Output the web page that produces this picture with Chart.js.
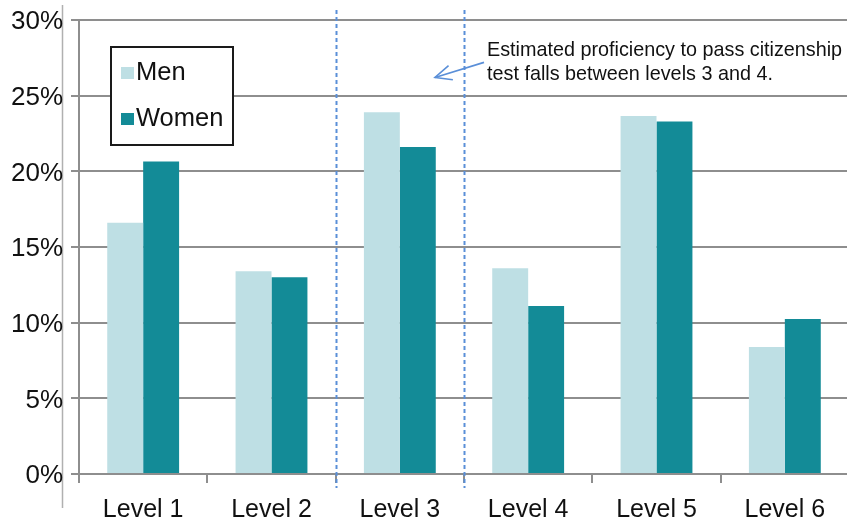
<!DOCTYPE html>
<html>
<head>
<meta charset="utf-8">
<script src="https://cdn.jsdelivr.net/npm/chart.js@4.4.1/dist/chart.umd.min.js"></script>
<style>
  html, body { margin: 0; padding: 0; background: #ffffff; overflow: hidden; }
  canvas { display: block; }
</style>
</head>
<body>
<canvas id="chart" width="849" height="521"></canvas>
<script>
// Share of test takers at each proficiency level, in percent
const categories = ['Level 1', 'Level 2', 'Level 3', 'Level 4', 'Level 5', 'Level 6'];
const menValues = [16.6, 13.4, 23.9, 13.6, 23.65, 8.4];
const womenValues = [20.65, 13.0, 21.6, 11.1, 23.3, 10.25];
const seriesNames = ['Men', 'Women'];
const yTickValues = [0, 5, 10, 15, 20, 25, 30];
const noteLines = ['Estimated proficiency to pass citizenship', 'test falls between levels 3 and 4.'];
// Citizenship threshold band lies between these two categories
const bandStart = 2;
const bandEnd = 3;

const FONT = '"Liberation Sans", Arial, Helvetica, sans-serif';
const MEN_COLOR = '#bedfe4';
const WOMEN_COLOR = '#138b97';
const GRID_COLOR = '#8e8e8e';
const NOTE_BLUE = '#5a8fd8';

// Boundary pixel between category i-1 and i
function boundaryX(xs, i) {
  const a = xs.getPixelForValue(i - 1);
  const b = xs.getPixelForValue(i);
  return (a + b) / 2;
}

const decorPlugin = {
  id: 'decor',
  beforeDraw(chart) {
    const ctx = chart.ctx;
    // thin frame line to the left of the value labels
    ctx.save();
    ctx.strokeStyle = '#b0b0b0';
    ctx.lineWidth = 1.5;
    ctx.beginPath();
    ctx.moveTo(62.5, 5);
    ctx.lineTo(62.5, 508);
    ctx.stroke();
    ctx.restore();
  },
  afterDraw(chart) {
    const ctx = chart.ctx;
    const xs = chart.scales.x;
    const ys = chart.scales.y;
    const area = chart.chartArea;

    // dashed markers around the threshold band
    ctx.save();
    ctx.strokeStyle = NOTE_BLUE;
    ctx.lineWidth = 2;
    ctx.setLineDash([4, 3]);
    [bandStart, bandEnd].forEach(i => {
      const x = Math.round(boundaryX(xs, i)) + 0.5;
      ctx.beginPath();
      ctx.moveTo(x, 10);
      ctx.lineTo(x, area.bottom + 14);
      ctx.stroke();
    });
    ctx.restore();

    // note text and arrow pointing into the band
    const xr = boundaryX(xs, bandEnd);
    ctx.save();
    ctx.fillStyle = '#111111';
    ctx.font = '19.8px ' + FONT;
    ctx.textAlign = 'left';
    ctx.textBaseline = 'middle';
    ctx.fillText(noteLines[0], xr + 23, ys.getPixelForValue(27.95));
    ctx.fillText(noteLines[1], xr + 23, ys.getPixelForValue(26.4));

    const x0 = xr + 20, y0 = ys.getPixelForValue(27.2);
    const x1 = xr - 29, y1 = ys.getPixelForValue(26.2);
    ctx.strokeStyle = NOTE_BLUE;
    ctx.lineWidth = 1.6;
    ctx.beginPath();
    ctx.moveTo(x0, y0);
    ctx.lineTo(x1, y1);
    ctx.stroke();
    const ang = Math.atan2(y0 - y1, x0 - x1);
    const len = 18, spread = 0.42;
    ctx.beginPath();
    ctx.moveTo(x1 + len * Math.cos(ang - spread), y1 + len * Math.sin(ang - spread));
    ctx.lineTo(x1, y1);
    ctx.lineTo(x1 + len * Math.cos(ang + spread), y1 + len * Math.sin(ang + spread));
    ctx.stroke();
    ctx.restore();

    // boxed legend
    const bx = 111, by = 47, bw = 122, bh = 98;
    ctx.save();
    ctx.fillStyle = '#ffffff';
    ctx.fillRect(bx, by, bw, bh);
    ctx.strokeStyle = '#1a1a1a';
    ctx.lineWidth = 2;
    ctx.strokeRect(bx, by, bw, bh);
    ctx.font = '25.5px ' + FONT;
    ctx.textAlign = 'left';
    ctx.textBaseline = 'middle';
    chart.data.datasets.forEach((ds, i) => {
      const cy = by + 26 + i * 46;
      ctx.fillStyle = ds.backgroundColor;
      ctx.fillRect(bx + 10, cy - 6, 13, 12);
      ctx.fillStyle = '#111111';
      ctx.fillText(ds.label, bx + 25, cy);
    });
    ctx.restore();
  }
};

new Chart(document.getElementById('chart'), {
  type: 'bar',
  data: {
    labels: categories,
    datasets: [
      { label: seriesNames[0], data: menValues, backgroundColor: MEN_COLOR },
      { label: seriesNames[1], data: womenValues, backgroundColor: WOMEN_COLOR }
    ]
  },
  options: {
    responsive: false,
    animation: false,
    devicePixelRatio: 1,
    layout: { padding: { top: 20, right: 0, left: 0, bottom: 0 } },
    datasets: { bar: { categoryPercentage: 0.56, barPercentage: 1.0 } },
    plugins: {
      legend: { display: false },
      tooltip: { enabled: false }
    },
    scales: {
      x: {
        grid: {
          offset: true,
          drawOnChartArea: false,
          drawTicks: true,
          tickLength: 9,
          color: GRID_COLOR,
          lineWidth: 2
        },
        border: { display: true, color: GRID_COLOR, width: 2 },
        ticks: {
          color: '#111111',
          font: { family: FONT, size: 25 },
          padding: 12
        },
        afterFit(scale) { scale.height = 47; }
      },
      y: {
        min: 0,
        max: 30,
        afterBuildTicks(scale) {
          scale.ticks = yTickValues.map(v => ({ value: v }));
        },
        grid: {
          color: GRID_COLOR,
          lineWidth: 2,
          tickLength: 8
        },
        border: { display: true, color: GRID_COLOR, width: 2 },
        ticks: {
          color: '#111111',
          font: { family: FONT, size: 26, lineHeight: 0.5 },
          padding: 8,
          labelOffset: 2,
          callback: v => v + '%'
        },
        afterFit(scale) { scale.width = 79; }
      }
    }
  },
  plugins: [decorPlugin]
});
</script>
</body>
</html>
